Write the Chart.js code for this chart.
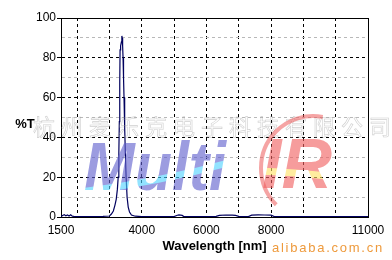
<!DOCTYPE html>
<html>
<head>
<meta charset="utf-8">
<script src="https://cdn.jsdelivr.net/npm/chart.js@4.4.0/dist/chart.umd.min.js"></script>
<style>
  html, body { margin: 0; padding: 0; background: #fff; }
  #wrap { width: 392px; height: 260px; }
</style>
</head>
<body>
<div id="wrap"><canvas id="chart" width="392" height="260"></canvas></div>
<script>
// Spectrum
const WAVELENGTH = [1500,1550,1600,1650,1700,1750,1800,1850,1900,2000,2200,2500,2800,3000,
  3060,3120,3170,3210,3245,3270,3290,3305,3318,3328,3345,3370,3383,3395,3407,3420,3435,3450,3470,3495,
  3515,3545,3580,3620,3680,3800,4000,4500,5000,5100,5150,5250,5300,5600,6000,
  6300,6400,6600,6800,6900,7000,7300,7400,7600,7800,8000,8100,8500,9500,11000];
const TRANSMISSION = [0.3,0.8,1.2,0.6,1.0,0.5,1.1,0.4,0.3,0.2,0.2,0.2,0.3,0.5,
  1.5,3,6,9,14,20,32,48,68,84,86,88,91,90,86,80,70,60,45,30,
  20,10,5,2.5,1,0.4,0.2,0.2,0.2,0.9,1.1,0.8,0.2,0.2,0.2,
  0.3,0.8,1.0,0.9,0.8,0.3,0.2,0.9,1.1,1.0,0.9,0.2,0.2,0.2,0.2];

// Axis ticks
const X_TICKS = [1500,2000,3000,4000,5000,6000,7000,8000,9000,10000,11000];
const X_LABELS = [1500,4000,6000,8000,11000];
const Y_TICKS = [0,10,20,30,40,50,60,70,80,90,100];
const Y_LABELS = [0,20,40,60,80,100];

const FONT = "'Liberation Sans', Arial, sans-serif";

function gridColor(v, min, max) {
    if (v === min || v === max) return 'rgba(0,0,0,0)';
    return (v % 2000 === 0 || v % 20 === 0) ? '#000' : '#b8b8b8';
}

// frame on the top/right/bottom of plot area
const framePlugin = {
    id: 'frame',
    beforeDatasetsDraw(chart) {
        const { ctx, chartArea: a } = chart;
        ctx.save();
        ctx.strokeStyle = '#000';
        ctx.lineWidth = 1;
        ctx.strokeRect(Math.round(a.left) + 0.5, Math.round(a.top) + 0.5,
            Math.round(a.right - a.left), Math.round(a.bottom - a.top));
        ctx.restore();
    }
};

// one word of the logo, with its coloured stripe clipped to the letters
function textLayer(txt, font, x, y, w, fill, band) {
    const c = document.createElement('canvas');
    c.width = 392; c.height = 260;
    const g = c.getContext('2d');
    g.font = font;
    g.textBaseline = 'alphabetic';
    const mw = g.measureText(txt).width;
    g.save();
    g.translate(x, y);
    g.scale(w / mw, 1);
    g.fillStyle = fill;
    g.fillText(txt, 0, 0);
    g.restore();
    if (band) {
        g.globalCompositeOperation = 'source-atop';
        g.strokeStyle = band.color;
        g.lineWidth = band.width;
        g.beginPath();
        g.moveTo(band.pts[0], band.pts[1]);
        g.quadraticCurveTo(band.pts[2], band.pts[3], band.pts[4], band.pts[5]);
        g.stroke();
    }
    return c;
}

const decoPlugin = {
    id: 'deco',
    afterDraw(chart) {
        const ctx = chart.ctx;
        ctx.save();
        // y axis label
        ctx.fillStyle = '#000';
        ctx.font = 'bold 13px ' + FONT;
        ctx.textAlign = 'center';
        ctx.textBaseline = 'middle';
        ctx.fillText('%T', 25, 124);

        // company watermark
        const cn = '杭州麦乐克电子科技有限公司';
        ctx.font = "22px 'Noto Sans CJK SC'";
        ctx.strokeStyle = 'rgba(160,160,160,0.5)';
        ctx.lineWidth = 0.6;
        for (let i = 0; i < cn.length; i++) {
            ctx.strokeText(cn[i], 44 + i * 28, 127);
        }

        // logo ring
        ctx.globalAlpha = 0.55;
        ctx.strokeStyle = 'rgb(236,90,90)';
        ctx.lineWidth = 4;
        ctx.beginPath();
        ctx.arc(313, 168, 52, Math.PI * 0.75, Math.PI * 1.56, false);
        ctx.stroke();
        ctx.globalAlpha = 0.62;

        // logo letters
        const multi = textLayer('Multi', 'italic bold 68px ' + FONT, 84, 190, 142,
            'rgb(95,95,205)', { color: 'rgb(80,210,255)', width: 7, pts: [80, 192, 160, 182, 232, 162] });
        const ir = textLayer('IR', 'italic bold 70px ' + FONT, 262, 188, 70,
            'rgb(240,95,95)', { color: 'rgb(255,225,100)', width: 7, pts: [255, 171, 295, 172, 335, 177] });
        ctx.drawImage(multi, 0, 0);
        ctx.drawImage(ir, 0, 0);
        ctx.globalAlpha = 1;

        // site watermark
        ctx.fillStyle = '#ee9a3c';
        ctx.font = '13px ' + FONT;
        ctx.textAlign = 'left';
        ctx.textBaseline = 'alphabetic';
        let x = 272;
        for (const ch of 'alibaba.com.cn') {
            ctx.fillText(ch, x, 252);
            x += ctx.measureText(ch).width + 1.75;
        }
        ctx.restore();
    }
};

const points = WAVELENGTH.map((w, i) => ({ x: w, y: TRANSMISSION[i] }));

new Chart(document.getElementById('chart'), {
    type: 'line',
    data: {
        datasets: [{
            data: points,
            borderColor: '#00005e',
            borderWidth: 1.2,
            pointRadius: 0,
            tension: 0,
            fill: false
        }]
    },
    options: {
        responsive: false,
        animation: false,
        events: [],
        layout: { padding: { top: 18, right: 24, left: 0, bottom: 0 } },
        plugins: { legend: { display: false }, tooltip: { enabled: false } },
        scales: {
            x: {
                type: 'linear',
                min: 1500,
                max: 11000,
                afterBuildTicks: s => { s.ticks = X_TICKS.map(v => ({ value: v })); },
                afterFit: s => { s.height = 43; },
                border: { display: false, dash: [3, 3] },
                grid: {
                    drawTicks: false,
                    lineWidth: 1,
                    color: c => gridColor(c.tick.value, 1500, 11000)
                },
                ticks: {
                    autoSkip: false,
                    maxRotation: 0,
                    padding: 6,
                    color: '#000',
                    font: { family: FONT, size: 12 },
                    callback: v => X_LABELS.includes(v) ? String(v) : ''
                },
                title: {
                    display: true,
                    text: 'Wavelength [nm]',
                    color: '#000',
                    font: { family: FONT, size: 13, weight: 'bold' },
                    padding: { top: 0, bottom: 6 }
                }
            },
            y: {
                min: 0,
                max: 100,
                afterBuildTicks: s => { s.ticks = Y_TICKS.map(v => ({ value: v })); },
                afterFit: s => { s.width = 61; },
                border: { display: true, color: '#000', width: 1, dash: [3, 3] },
                grid: {
                    drawTicks: true,
                    tickLength: 4,
                    lineWidth: 1,
                    tickColor: c => Y_LABELS.includes(c.tick.value) ? '#000' : 'rgba(0,0,0,0)',
                    color: c => gridColor(c.tick.value, 0, 100)
                },
                ticks: {
                    autoSkip: false,
                    padding: 1,
                    color: '#000',
                    font: { family: FONT, size: 12 },
                    callback: v => Y_LABELS.includes(v) ? String(v) : ''
                }
            }
        }
    },
    plugins: [framePlugin, decoPlugin]
});
</script>
</body>
</html>
